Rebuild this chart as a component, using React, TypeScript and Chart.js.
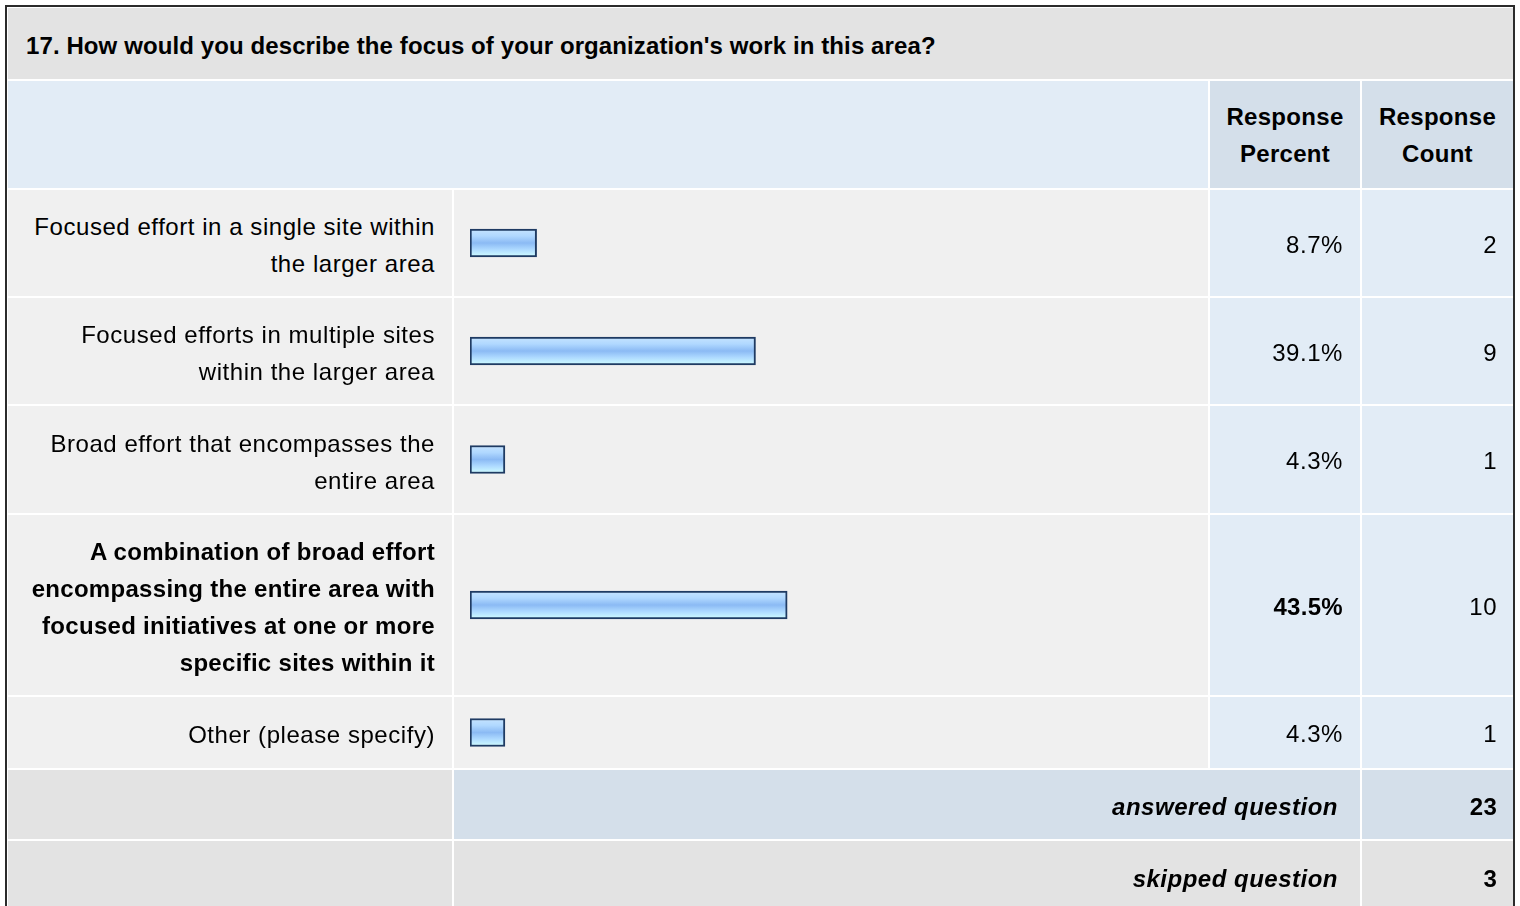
import React, { useEffect, useRef } from "react";
import { Chart, registerables } from "chart.js";

Chart.register(...registerables);

const questionTitle = "17. How would you describe the focus of your organization's work in this area?";
const answerLabels = [
  "Focused effort in a single site within the larger area",
  "Focused efforts in multiple sites within the larger area",
  "Broad effort that encompasses the entire area",
  "A combination of broad effort encompassing the entire area with focused initiatives at one or more specific sites within it",
  "Other (please specify)",
];
const responsePercents = [8.7, 39.1, 4.3, 43.5, 4.3];
const responseCounts = [2, 9, 1, 10, 1];
const answeredCount = 23;
const skippedCount = 3;

const rowHeights = [106, 106, 107, 180, 71];
const FONT = "Helvetica, Arial, 'Liberation Sans', sans-serif";
const AXIS_MIN = -0.55;

function BarCell({ value, height, label }: { value: number; height: number; label: string }) {
  const ref = useRef<HTMLCanvasElement | null>(null);
  useEffect(() => {
    if (!ref.current) return;
    const chart = new Chart(ref.current, {
      type: "bar",
      data: {
        labels: [label],
        datasets: [
          {
            data: [value],
            base: AXIS_MIN,
            backgroundColor: (ctx: any) => {
              const ch = ctx.chart;
              const area = ch.chartArea;
              if (!area) return "#9cc8f8";
              const mid = (area.top + area.bottom) / 2;
              const g = ch.ctx.createLinearGradient(0, mid - 14, 0, mid + 14);
              g.addColorStop(0, "#c6e4ff");
              g.addColorStop(0.25, "#b0d8ff");
              g.addColorStop(0.5, "#8bbaf4");
              g.addColorStop(0.72, "#acd8ff");
              g.addColorStop(1, "#d2ffff");
              return g;
            },
            borderColor: "#1f3b63",
            borderWidth: 2,
            borderSkipped: false,
            barThickness: 28,
          } as any,
        ],
      },
      options: {
        indexAxis: "y",
        responsive: false,
        animation: false,
        devicePixelRatio: 1,
        layout: { padding: { left: 16, right: 14, top: 0, bottom: 0 } },
        scales: {
          x: { display: false, min: AXIS_MIN, max: 100 },
          y: { display: false },
        },
        plugins: { legend: { display: false }, tooltip: { enabled: false } },
      } as any,
    });
    return () => chart.destroy();
  }, [value, height, label]);
  return <canvas ref={ref} width={754} height={height} style={{ display: "block", width: 754, height }} />;
}

export default function App() {
  const maxIdx = responsePercents.indexOf(Math.max(...responsePercents));
  const base: React.CSSProperties = {
    fontFamily: FONT,
    fontSize: 24,
    lineHeight: "37px",
    color: "#000",
    boxSizing: "border-box",
    verticalAlign: "middle",
  };
  const reg = "0.55px";
  const bld = "0.3px";
  return (
    <div
      style={{
        position: "absolute",
        left: 5,
        top: 5,
        width: 1506,
        height: 920,
        border: "2px solid #2b2b2b",
        borderBottom: "none",
        background: "#fff",
        overflow: "visible",
      }}
    >
      <table
        style={{
          tableLayout: "fixed",
          borderCollapse: "separate",
          borderSpacing: 2,
          width: 1509,
          margin: "-1px 0 0 -1px",
          background: "transparent",
        }}
      >
        <colgroup>
          <col style={{ width: 444 }} />
          <col style={{ width: 754 }} />
          <col style={{ width: 150 }} />
          <col style={{ width: 151 }} />
        </colgroup>
        <tbody>
          <tr style={{ height: 71 }}>
            <td
              colSpan={4}
              style={{
                ...base,
                background: "#e3e3e3",
                fontSize: 24,
                fontWeight: "bold",
                padding: "4px 18px 0 18px",
                lineHeight: "28px",
                letterSpacing: "0.1px",
              }}
            >
              {questionTitle}
            </td>
          </tr>
          <tr style={{ height: 107 }}>
            <td colSpan={2} style={{ ...base, background: "#e2ecf6" }} />
            <td style={{ ...base, background: "#d4dfea", fontWeight: "bold", textAlign: "center", padding: 0, letterSpacing: bld }}>
              Response
              <br />
              Percent
            </td>
            <td style={{ ...base, background: "#d4dfea", fontWeight: "bold", textAlign: "center", padding: 0, letterSpacing: bld }}>
              Response
              <br />
              Count
            </td>
          </tr>
          {answerLabels.map((lab, i) => {
            const bold = i === maxIdx;
            return (
              <tr key={i} style={{ height: rowHeights[i] }}>
                <td
                  style={{
                    ...base,
                    background: "#f0f0f0",
                    textAlign: "right",
                    padding: "4px 17px 0 16px",
                    fontWeight: bold ? "bold" : "normal",
                    letterSpacing: bold ? bld : reg,
                  }}
                >
                  {lab}
                </td>
                <td style={{ ...base, background: "#f0f0f0", padding: 0 }}>
                  <BarCell value={responsePercents[i]} height={rowHeights[i]} label={lab} />
                </td>
                <td
                  style={{
                    ...base,
                    background: "#e2ecf6",
                    textAlign: "right",
                    padding: "2px 17px 0 0",
                    fontWeight: bold ? "bold" : "normal",
                    letterSpacing: bold ? bld : reg,
                  }}
                >
                  {responsePercents[i].toFixed(1)}%
                </td>
                <td style={{ ...base, background: "#e2ecf6", textAlign: "right", padding: "2px 16px 0 0", letterSpacing: reg }}>
                  {responseCounts[i]}
                </td>
              </tr>
            );
          })}
          <tr style={{ height: 69 }}>
            <td style={{ ...base, background: "#e3e3e3" }} />
            <td
              colSpan={2}
              style={{
                ...base,
                background: "#d4dfea",
                textAlign: "right",
                padding: "4px 22px 0 0",
                fontWeight: "bold",
                fontStyle: "italic",
                letterSpacing: "0.5px",
              }}
            >
              answered question
            </td>
            <td style={{ ...base, background: "#d4dfea", textAlign: "right", padding: "4px 16px 0 0", fontWeight: "bold", letterSpacing: bld }}>
              {answeredCount}
            </td>
          </tr>
          <tr style={{ height: 70 }}>
            <td style={{ ...base, background: "#e3e3e3" }} />
            <td
              colSpan={2}
              style={{
                ...base,
                background: "#e3e3e3",
                textAlign: "right",
                padding: "4px 22px 0 0",
                fontWeight: "bold",
                fontStyle: "italic",
                letterSpacing: "0.5px",
              }}
            >
              skipped question
            </td>
            <td style={{ ...base, background: "#e3e3e3", textAlign: "right", padding: "4px 16px 0 0", fontWeight: "bold", letterSpacing: bld }}>
              {skippedCount}
            </td>
          </tr>
        </tbody>
      </table>
    </div>
  );
}
